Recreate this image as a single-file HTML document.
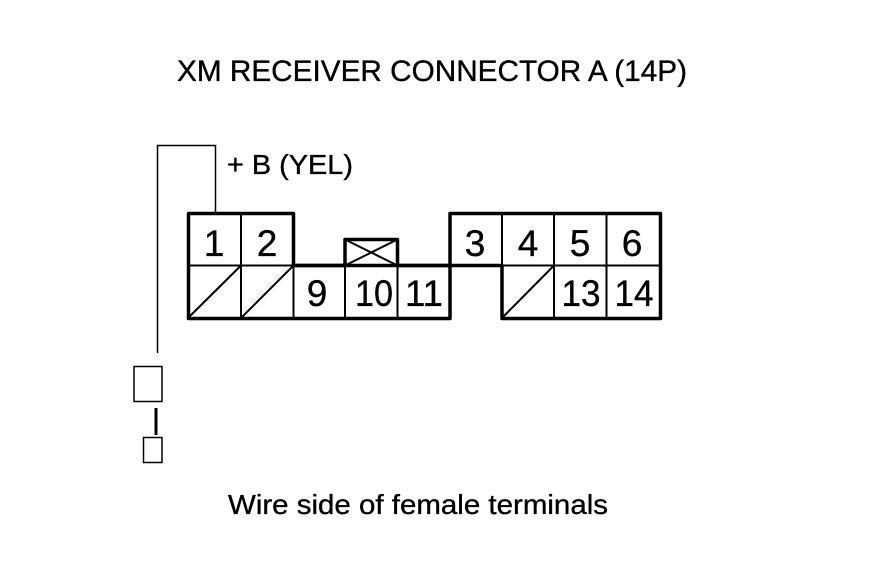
<!DOCTYPE html>
<html>
<head>
<meta charset="utf-8">
<style>
html,body{margin:0;padding:0;background:#fff;width:880px;height:580px;overflow:hidden}
svg{display:block}
text{font-family:"Liberation Sans",sans-serif;fill:#000;stroke:#000;stroke-width:.35px}
.n{font-size:37px;text-anchor:middle}
</style>
</head>
<body>
<svg width="880" height="580" viewBox="0 0 880 580" xmlns="http://www.w3.org/2000/svg">
<rect width="880" height="580" fill="#fff"/>
<text x="177" y="81" font-size="30" textLength="510" lengthAdjust="spacingAndGlyphs">XM RECEIVER CONNECTOR A (14P)</text>
<text x="227" y="174" font-size="28" textLength="126" lengthAdjust="spacingAndGlyphs">+ B (YEL)</text>
<text x="228" y="514" font-size="27.5" textLength="380" lengthAdjust="spacingAndGlyphs">Wire side of female terminals</text>

<path d="M157.500 353V145.500H215.500V213" fill="none" stroke="#000" stroke-width="1.500"/>

<g fill="none" stroke="#000" stroke-width="2">
<path d="M241 213V318M293.500 265V318M345 265V318M397.500 265V318M502 213V318M554 213V318M606.500 213V318"/>
<path d="M188 265.500H293M502 265.500H661"/>
<path d="M188 318L241 265.500M241 318L293.500 265.500M502 318L554 265.500"/>
<path d="M345 239.500L397.500 265.500M345 265.500L397.500 239.500"/>
</g>
<path d="M188.500 265V213.500H293.500V265.500H345V239.500H397.500V265.500H450V213.500H660.500V318.500H502V265.500H450V318.500H188.500Z" fill="none" stroke="#000" stroke-width="3.500" stroke-linejoin="round"/>
<path d="M293.500 265.500H450" stroke="#000" stroke-width="3.500"/>

<text class="n" x="214" y="256">1</text>
<text class="n" x="267" y="256">2</text>
<text class="n" x="475" y="256">3</text>
<text class="n" x="528" y="256">4</text>
<text class="n" x="580" y="256">5</text>
<text class="n" x="632" y="256">6</text>
<text class="n" x="317" y="306">9</text>
<text class="n" x="374" y="306" textLength="38" lengthAdjust="spacingAndGlyphs">10</text>
<text class="n" x="424" y="306" textLength="38" lengthAdjust="spacingAndGlyphs">11</text>
<text class="n" x="581" y="306" textLength="39" lengthAdjust="spacingAndGlyphs">13</text>
<text class="n" x="634" y="306" textLength="39" lengthAdjust="spacingAndGlyphs">14</text>

<rect x="134" y="366.500" width="28" height="35" fill="none" stroke="#000" stroke-width="1.500"/>
<rect x="154.500" y="408" width="3" height="27" fill="#000"/>
<rect x="143.500" y="437.500" width="18.500" height="25" fill="none" stroke="#000" stroke-width="1.500"/>
</svg>
</body>
</html>
